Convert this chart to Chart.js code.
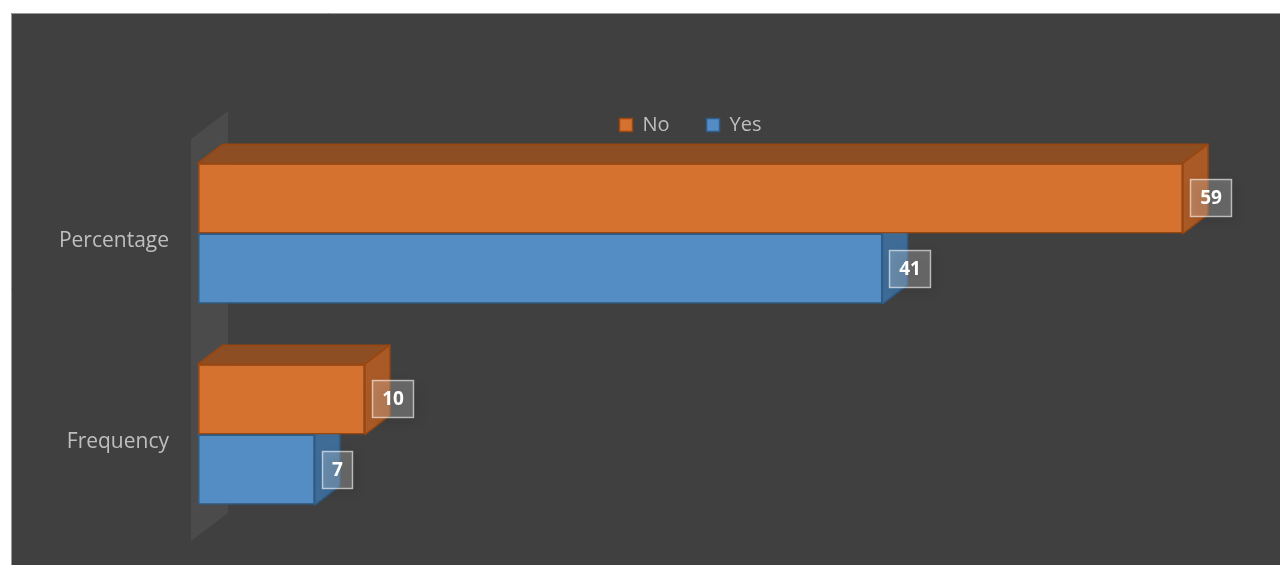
<!DOCTYPE html>
<html>
<head>
<meta charset="utf-8">
<script src="https://cdn.jsdelivr.net/npm/chart.js@4/dist/chart.umd.min.js"></script>
<style>
  html, body { margin: 0; padding: 0; background: #ffffff; }
  #wrap { width: 1280px; height: 565px; position: relative; }
</style>
</head>
<body>
<div id="wrap"><canvas id="c" width="1280" height="565"></canvas></div>
<script>
const categories = ['Percentage', 'Frequency'];
const seriesNames = ['No', 'Yes'];
const noValues = [59, 10];
const yesValues = [41, 7];

const FONT = "'Open Sans', 'Noto Sans', sans-serif";
const depthX = 25, depthY = 19;

const faceColors = {
  No:  { front: '#D6722F', top: '#8E4E23', side: '#A95A26', edge: '#9A460F' },
  Yes: { front: '#548DC4', top: '#3A6690', side: '#3E6C97', edge: '#2C5D8B' }
};

const backgroundPlugin = {
  id: 'bg',
  beforeDraw(chart) {
    const ctx = chart.ctx;
    const ca = chart.chartArea;
    ctx.save();
    ctx.fillStyle = '#ffffff';
    ctx.fillRect(0, 0, chart.width, chart.height);
    ctx.fillStyle = '#404040';
    ctx.fillRect(11, 13, chart.width - 11, chart.height - 13);
    ctx.strokeStyle = '#9a9a9a';
    ctx.lineWidth = 1;
    ctx.beginPath();
    ctx.moveTo(11.5, chart.height);
    ctx.lineTo(11.5, 13.5);
    ctx.lineTo(chart.width, 13.5);
    ctx.stroke();
    // back wall
    const l = ca.left - 7, r = ca.left + 30;
    ctx.fillStyle = 'rgba(255,255,255,0.06)';
    ctx.beginPath();
    ctx.moveTo(l, ca.top + 6);
    ctx.lineTo(r, ca.top - 22);
    ctx.lineTo(r, ca.bottom - 22);
    ctx.lineTo(l, ca.bottom + 6);
    ctx.closePath();
    ctx.fill();
    ctx.restore();
  }
};

const depthPlugin = {
  id: 'depth',
  afterDatasetDraw(chart, args) {
    const ctx = chart.ctx;
    const ds = chart.data.datasets[args.index];
    const col = faceColors[ds.label];
    ctx.save();
    ctx.lineWidth = 1.5;
    ctx.strokeStyle = col.edge;
    ctx.lineJoin = 'round';
    args.meta.data.forEach(el => {
      const p = el.getProps(['x', 'y', 'base', 'height'], true);
      const left = Math.min(p.base, p.x), right = Math.max(p.base, p.x);
      const top = p.y - p.height / 2, bottom = p.y + p.height / 2;
      // top face
      ctx.fillStyle = col.top;
      ctx.beginPath();
      ctx.moveTo(left, top);
      ctx.lineTo(left + depthX, top - depthY);
      ctx.lineTo(right + depthX, top - depthY);
      ctx.lineTo(right, top);
      ctx.closePath();
      ctx.fill();
      ctx.stroke();
      // side face
      ctx.fillStyle = col.side;
      ctx.beginPath();
      ctx.moveTo(right, top);
      ctx.lineTo(right + depthX, top - depthY);
      ctx.lineTo(right + depthX, bottom - depthY);
      ctx.lineTo(right, bottom);
      ctx.closePath();
      ctx.fill();
      ctx.stroke();
    });
    ctx.restore();
  },
  afterDatasetsDraw(chart) {
    const ctx = chart.ctx;
    ctx.save();
    ctx.font = "bold 19px " + FONT;
    ctx.textAlign = 'center';
    ctx.textBaseline = 'middle';
    chart.data.datasets.forEach((ds, di) => {
      const meta = chart.getDatasetMeta(di);
      meta.data.forEach((el, i) => {
        const p = el.getProps(['x', 'y'], true);
        const txt = String(ds.data[i]);
        const tw = ctx.measureText(txt).width;
        const w = Math.round(tw + 20), h = 38;
        const bx = Math.round(p.x + 7), by = Math.round(p.y - h / 2);
        ctx.save();
        ctx.shadowColor = 'rgba(0,0,0,0.45)';
        ctx.shadowBlur = 12;
        ctx.shadowOffsetX = 4;
        ctx.shadowOffsetY = 4;
        ctx.fillStyle = 'rgba(255,255,255,0.22)';
        ctx.fillRect(bx, by, w, h);
        ctx.restore();
        ctx.strokeStyle = 'rgba(255,255,255,0.55)';
        ctx.lineWidth = 1.5;
        ctx.strokeRect(bx + 0.5, by + 0.5, w - 1, h - 1);
        ctx.fillStyle = '#ffffff';
        ctx.fillText(txt, bx + w / 2, by + h / 2 + 1);
      });
    });
    ctx.restore();
  }
};

new Chart(document.getElementById('c'), {
  type: 'bar',
  data: {
    labels: categories,
    datasets: [
      {
        label: seriesNames[0],
        data: noValues,
        backgroundColor: faceColors.No.front,
        borderColor: faceColors.No.edge,
        borderWidth: 1.5,
        borderSkipped: false,
        categoryPercentage: 0.7,
        barPercentage: 1.0,
        clip: false
      },
      {
        label: seriesNames[1],
        data: yesValues,
        backgroundColor: faceColors.Yes.front,
        borderColor: faceColors.Yes.edge,
        borderWidth: 1.5,
        borderSkipped: false,
        categoryPercentage: 0.7,
        barPercentage: 1.0,
        clip: false
      }
    ]
  },
  options: {
    indexAxis: 'y',
    responsive: false,
    animation: false,
    devicePixelRatio: 1,
    layout: { padding: { left: 11, right: 97, top: 78, bottom: 30 } },
    scales: {
      x: {
        display: false,
        min: 0,
        max: 59
      },
      y: {
        grid: { display: false, drawTicks: false },
        border: { display: false },
        ticks: {
          color: '#bfbfbf',
          font: { family: FONT, size: 21 },
          padding: 29,
          labelOffset: 8
        },
        afterFit(scale) {
          scale.width = 187;
          scale.paddingTop = 0;
          scale.paddingBottom = 0;
        }
      }
    },
    plugins: {
      tooltip: { enabled: false },
      legend: {
        position: 'top',
        fullSize: false,
        maxHeight: 55,
        labels: {
          color: '#bfbfbf',
          font: { family: FONT, size: 20 },
          boxWidth: 13,
          boxHeight: 13,
          padding: 37
        }
      }
    }
  },
  plugins: [backgroundPlugin, depthPlugin]
});
</script>
</body>
</html>
